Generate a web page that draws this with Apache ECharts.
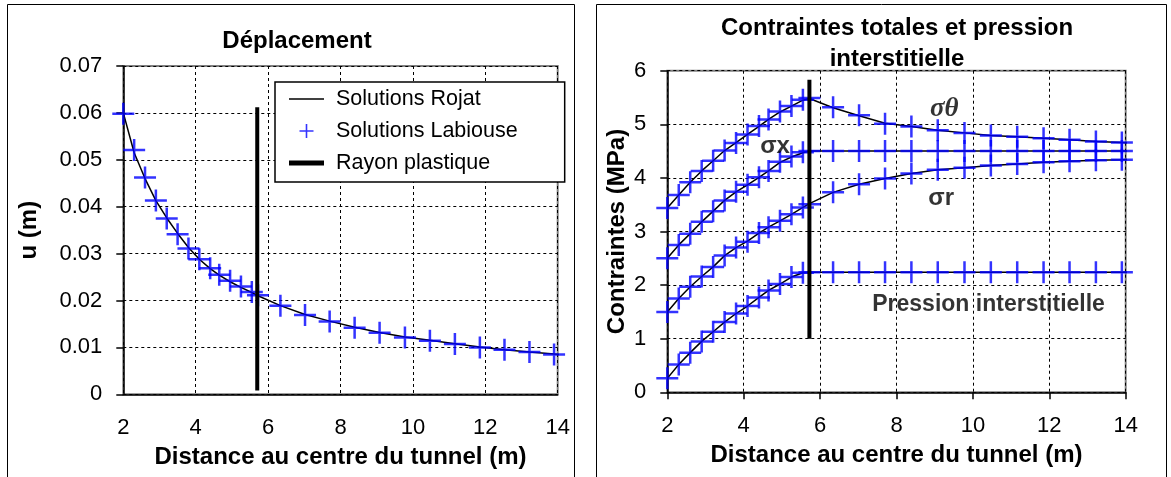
<!DOCTYPE html>
<html><head><meta charset="utf-8">
<script src="https://cdn.jsdelivr.net/npm/echarts@6/dist/echarts.min.js"></script>
<style>html,body{margin:0;padding:0;background:#fff}#c{width:1171px;height:477px}</style>
</head><body><div id="c"></div>
<script>
// ---- data ----
const markerX = [2.0, 2.3, 2.6, 2.9, 3.2, 3.5, 3.8, 4.1, 4.4, 4.65, 4.95, 5.25, 5.55, 5.72,
                 6.34, 7.02, 7.70, 8.39, 9.08, 9.78, 10.47, 11.16, 11.85, 12.53, 13.22, 13.90];
const rojatX = [2.0, 2.3, 2.6, 2.9, 3.2, 3.5, 3.8, 4.1, 4.4, 4.65, 4.95, 5.25, 5.55, 5.72,
                 6.34, 7.02, 7.70, 8.39, 9.08, 9.78, 10.47, 11.16, 11.85, 12.53, 13.22, 13.90, 14.35];
// left: displacement u (m)
const uLabiouse = [0.0598, 0.0521, 0.0462, 0.0413, 0.0375, 0.0341, 0.0311, 0.0288, 0.0269, 0.0255, 0.0242, 0.0230, 0.0218, 0.0211,
                   0.0189, 0.0169, 0.0155, 0.0142, 0.0131, 0.0121, 0.0114, 0.0107, 0.0100, 0.0095, 0.0090, 0.0085];
const uRojat = [0.0600, 0.0515, 0.0460, 0.0413, 0.0376, 0.0343, 0.0313, 0.0288, 0.0268, 0.0254, 0.0240, 0.0228, 0.0217, 0.0210,
                0.0189, 0.0170, 0.0156, 0.0143, 0.0132, 0.0122, 0.0115, 0.0108, 0.0101, 0.0095, 0.0090, 0.0086, 0.0083];
const plasticRadiusU = [[5.70, 0.0008], [5.70, 0.0612]];
// right: stresses (MPa)
const sThetaLab = [3.44, 3.68, 3.92, 4.13, 4.32, 4.51, 4.65, 4.81, 4.97, 5.09, 5.24, 5.34, 5.46, 5.49,
                   5.32, 5.17, 5.01, 4.96, 4.89, 4.84, 4.79, 4.77, 4.74, 4.71, 4.68, 4.66];
const sThetaRoj = [3.44, 3.68, 3.92, 4.13, 4.32, 4.51, 4.66, 4.81, 4.96, 5.09, 5.23, 5.34, 5.45, 5.48,
                   5.31, 5.16, 5.02, 4.96, 4.89, 4.84, 4.79, 4.77, 4.74, 4.71, 4.68, 4.66, 4.65];
const sXLab = [2.50, 2.75, 2.96, 3.18, 3.38, 3.58, 3.74, 3.87, 4.01, 4.13, 4.30, 4.40, 4.48, 4.50,
               4.50, 4.50, 4.50, 4.50, 4.50, 4.50, 4.50, 4.50, 4.50, 4.50, 4.50, 4.50];
const sXRoj = [2.50, 2.75, 2.96, 3.18, 3.38, 3.58, 3.74, 3.87, 4.01, 4.13, 4.29, 4.39, 4.47, 4.50,
               4.50, 4.50, 4.50, 4.50, 4.50, 4.50, 4.50, 4.50, 4.50, 4.50, 4.50, 4.50, 4.50];
const sRLab = [1.50, 1.75, 1.97, 2.16, 2.34, 2.55, 2.70, 2.81, 2.97, 3.08, 3.20, 3.32, 3.45, 3.51,
               3.73, 3.88, 3.99, 4.08, 4.15, 4.19, 4.23, 4.26, 4.29, 4.31, 4.33, 4.34];
const sRRoj = [1.50, 1.75, 1.97, 2.16, 2.34, 2.55, 2.70, 2.82, 2.97, 3.08, 3.20, 3.32, 3.45, 3.52,
               3.73, 3.88, 3.99, 4.08, 4.15, 4.19, 4.23, 4.26, 4.29, 4.31, 4.33, 4.34, 4.35];
const pwLab = [0.26, 0.52, 0.74, 0.95, 1.13, 1.31, 1.47, 1.61, 1.77, 1.90, 2.02, 2.15, 2.23, 2.24,
               2.24, 2.24, 2.24, 2.24, 2.24, 2.24, 2.24, 2.24, 2.24, 2.24, 2.24, 2.24];
const pwRoj = [0.26, 0.52, 0.74, 0.95, 1.13, 1.31, 1.47, 1.61, 1.77, 1.90, 2.02, 2.15, 2.23, 2.24,
               2.24, 2.24, 2.24, 2.24, 2.24, 2.24, 2.24, 2.24, 2.24, 2.24, 2.24, 2.24, 2.24];
const plasticRadiusS = [[5.72, 1.0], [5.72, 5.83]];
// annotations
const annotText = ['σθ', 'σx', 'σr', 'Pression interstitielle'];
const annotX = [9.25, 4.82, 9.17, 10.41];
const annotY = [5.29, 4.58, 3.62, 1.63];
// axes
const xMin = 2, xMax = 14, xStep = 2;
const uMax = 0.07, uStep = 0.01;
const sMax = 6, sStep = 1;

// ---- styling ----
const FF = 'Liberation Sans';
const BLUE = '#0000FF';
const PLUS = 'path://M9.75,0h2.5v9.75h9.75v2.5h-9.75v9.75h-2.5v-9.75h-9.75v-2.5h9.75z';
const pairs = (xs, ys) => ys.map((y, i) => [xs[i], y]);

function xAxisCfg(gi, showTick) {
  return {
    gridIndex: gi, type: 'value', min: xMin, max: xMax, interval: xStep,
    axisLine: { show: true, onZero: false, lineStyle: { color: '#000', width: 1.5 } },
    axisTick: { show: showTick, length: 7, lineStyle: { color: '#000', width: 1.5 } },
    axisLabel: { fontSize: 22, color: '#000', fontFamily: FF, margin: 23 },
    splitLine: { show: true, lineStyle: { type: [3, 3], color: '#000', width: 1 } },
    name: 'Distance au centre du tunnel (m)', nameLocation: 'middle', nameGap: 51,
    nameTextStyle: { fontSize: 24, fontWeight: 'bold', color: '#000', fontFamily: FF }
  };
}
function yAxisCfg(gi, max, step, name, gap, fmt) {
  return {
    gridIndex: gi, type: 'value', min: 0, max: max, interval: step,
    axisLine: { show: true, onZero: false, lineStyle: { color: '#000', width: 1.5 } },
    axisTick: { show: true, length: 7, lineStyle: { color: '#000', width: 1.5 } },
    axisLabel: { fontSize: 22, color: '#000', fontFamily: FF, margin: 21, formatter: fmt },
    splitLine: { show: true, lineStyle: { type: [3, 3], color: '#000', width: 1 } },
    name: name, nameLocation: 'middle', nameGap: gap, nameRotate: 90,
    nameTextStyle: { fontSize: 24, fontWeight: 'bold', color: '#000', fontFamily: FF }
  };
}
function rojat(name, gi, ys) {
  return { name, type: 'line', xAxisIndex: gi, yAxisIndex: gi, data: pairs(rojatX, ys),
    symbol: 'none', clip: false, itemStyle: { color: '#000' }, lineStyle: { color: '#000', width: 1.5 }, z: 3 };
}
function labiouse(name, gi, ys) {
  return { name, type: 'scatter', xAxisIndex: gi, yAxisIndex: gi, data: pairs(markerX, ys),
    symbol: PLUS, symbolSize: 22, itemStyle: { color: BLUE }, z: 4 };
}

const annotData = annotText.map((t, i) => {
  const item = { value: [annotX[i], annotY[i]], name: t };
  if (i === 0) item.label = { formatter: '{g|σθ}' };
  else if (i === 3) item.label = { fontSize: 23 };
  return item;
});

const option = {
  animation: false,
  backgroundColor: '#fff',
  title: [
    { text: 'Déplacement', left: 292, top: 24, textAlign: 'center',
      textStyle: { fontSize: 24, fontWeight: 'bold', color: '#000', fontFamily: FF } },
    { text: 'Contraintes totales et pression\ninterstitielle', left: 892, top: 8, textAlign: 'center',
      textStyle: { fontSize: 24, fontWeight: 'bold', color: '#000', fontFamily: FF, lineHeight: 31 } }
  ],
  legend: {
    left: 275, top: 82, orient: 'vertical',
    data: [
      { name: 'Solutions Rojat', icon: 'path://M0,0h35v1.5h-35z' },
      { name: 'Solutions Labiouse', icon: PLUS },
      { name: 'Rayon plastique', icon: 'path://M0,0h35v5h-35z' }
    ],
    itemWidth: 35, itemHeight: 14, itemGap: 10,
    padding: [6, 47, 8, 14],
    borderColor: '#000', borderWidth: 1.5, backgroundColor: '#fff',
    textStyle: { fontSize: 21.5, color: '#000', fontFamily: FF, padding: [0, 0, 0, 7] },
    selectedMode: false, z: 10
  },
  grid: [
    { left: 123.3, right: 613.3, top: 66, bottom: 82.7, show: true, borderColor: '#808080', borderWidth: 2 },
    { left: 667.3, right: 45.3, top: 70.7, bottom: 84.7, show: true, borderColor: '#808080', borderWidth: 2 }
  ],
  xAxis: [xAxisCfg(0, false), xAxisCfg(1, true)],
  yAxis: [
    yAxisCfg(0, uMax, uStep, 'u (m)', 82, v => v === 0 ? '0' : v.toFixed(2)),
    yAxisCfg(1, sMax, sStep, 'Contraintes (MPa)', 38, v => String(Math.round(v)))
  ],
  graphic: [
    { type: 'rect', shape: { x: 7.5, y: 4.5, width: 567, height: 520 }, style: { fill: 'none', stroke: '#000', lineWidth: 1 }, z: 0 },
    { type: 'rect', shape: { x: 596.5, y: 4.5, width: 570, height: 520 }, style: { fill: 'none', stroke: '#000', lineWidth: 1 }, z: 0 }
  ],
  series: [
    rojat('Solutions Rojat', 0, uRojat),
    labiouse('Solutions Labiouse', 0, uLabiouse),
    { name: 'Rayon plastique', type: 'line', xAxisIndex: 0, yAxisIndex: 0, data: plasticRadiusU,
      symbol: 'none', itemStyle: { color: '#000' }, lineStyle: { color: '#000', width: 4 }, z: 5 },
    rojat('σθ Rojat', 1, sThetaRoj),
    rojat('σx Rojat', 1, sXRoj),
    rojat('σr Rojat', 1, sRRoj),
    rojat('p Rojat', 1, pwRoj),
    labiouse('σθ Labiouse', 1, sThetaLab),
    labiouse('σx Labiouse', 1, sXLab),
    labiouse('σr Labiouse', 1, sRLab),
    labiouse('p Labiouse', 1, pwLab),
    { name: 'Rayon plastique S', type: 'line', xAxisIndex: 1, yAxisIndex: 1, data: plasticRadiusS,
      symbol: 'none', itemStyle: { color: '#000' }, lineStyle: { color: '#000', width: 4 }, z: 5 },
    { name: 'annotations', type: 'scatter', xAxisIndex: 1, yAxisIndex: 1, data: annotData,
      symbolSize: 0, z: 6,
      label: { show: true, position: 'inside', formatter: '{b}', color: '#000', fontSize: 24,
        fontWeight: 'bold', fontFamily: FF,
        rich: { g: { fontSize: 27, fontWeight: 'bold', fontStyle: 'italic', fontFamily: 'Liberation Serif', color: '#000' } } } }
  ]
};
const chart = echarts.init(document.getElementById('c'), null, { renderer: 'canvas' });
chart.setOption(option);
</script></body></html>
